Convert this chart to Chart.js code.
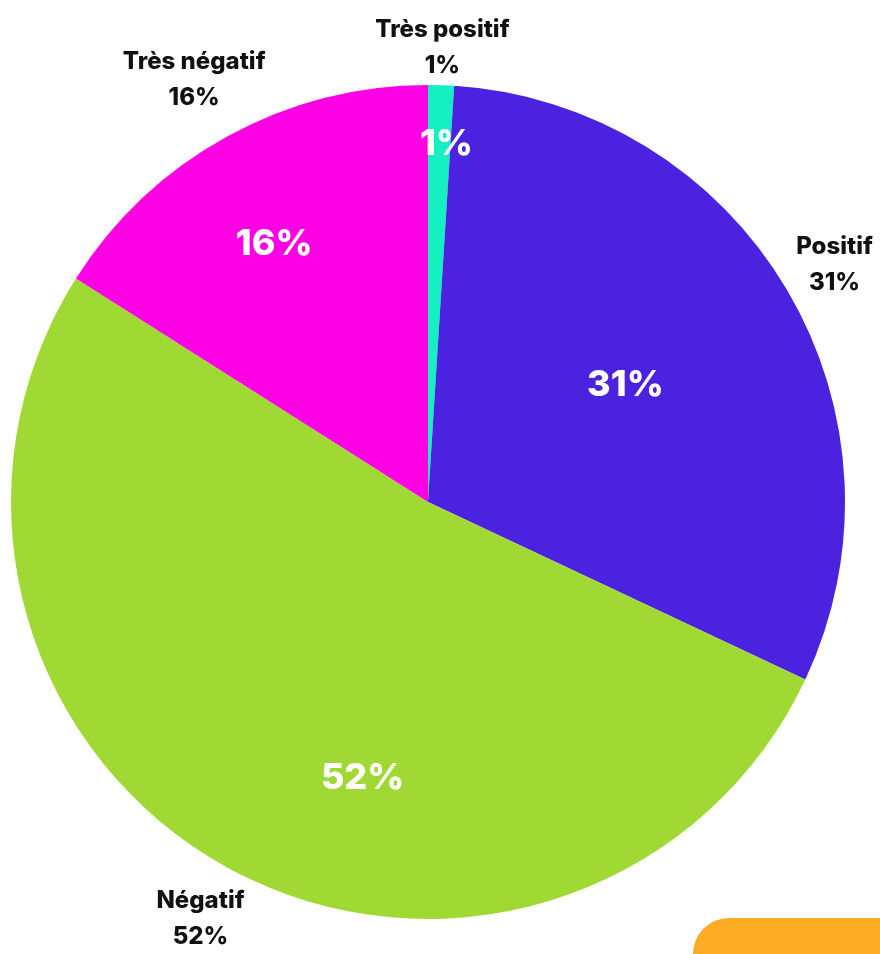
<!DOCTYPE html>
<html>
<head>
<meta charset="utf-8">
<title>Répartition des avis</title>
<style>
  body {
    margin: 0;
    background: #fff;
    overflow: hidden;
  }
  .wrap {
    position: relative;
    width: 880px;
    height: 954px;
  }
  /* bouton orange coupé en bas à droite */
  .badge {
    position: absolute;
    left: 693px;
    top: 918px;
    width: 260px;
    height: 120px;
    background: #fdab22;
    border-radius: 36px;
  }
</style>
</head>
<body>
<div class="wrap">
  <canvas id="avisChart" width="880" height="954"></canvas>
  <div class="badge"></div>
</div>

<script src="https://cdn.jsdelivr.net/npm/chart.js"></script>
<script>
  const categories = ['Très positif', 'Positif', 'Négatif', 'Très négatif'];
  const values = [1, 31, 52, 16];
  const colors = ['#14f0c2', '#4a22e0', '#a1d934', '#fd00e3'];

  const FONT = 'Inter, "Open Sans", sans-serif';

  // étiquettes : pourcentage dans la part, catégorie + pourcentage à l'extérieur
  const labelsPlugin = {
    id: 'pieLabels',
    afterDatasetsDraw(chart) {
      const ctx = chart.ctx;
      const meta = chart.getDatasetMeta(0);
      ctx.save();
      ctx.textAlign = 'center';
      ctx.textBaseline = 'middle';
      meta.data.forEach((arc, i) => {
        const { x, y, startAngle, endAngle, outerRadius } = arc.getProps(['x', 'y', 'startAngle', 'endAngle', 'outerRadius'], true);
        const mid = (startAngle + endAngle) / 2;
        const cos = Math.cos(mid), sin = Math.sin(mid);
        const txt = values[i] + '%';

        // intérieur
        const inner = [0.86, 0.55, 0.68, 0.72][i];
        const nudge = [0.02, 0, -0.27, -0.035][i];
        ctx.fillStyle = '#fff';
        ctx.font = '800 36px ' + FONT;
        ctx.fillText(txt, x + Math.cos(mid + nudge) * outerRadius * inner, y + Math.sin(mid + nudge) * outerRadius * inner);

        // extérieur : le bloc de texte est poussé hors du cercle
        ctx.font = '800 24px ' + FONT;
        const halfW = Math.max(ctx.measureText(categories[i]).width, ctx.measureText(txt).width) / 2;
        const halfH = 32;
        const dist = outerRadius + 6 + Math.abs(cos) * halfW + Math.abs(sin) * halfH;
        const ox = x + cos * dist;
        const oy = y + sin * dist + 3;
        const gap = 18;
        ctx.fillStyle = '#111';
        ctx.fillText(categories[i], ox, oy - gap);
        ctx.fillText(txt, ox, oy + gap);
      });
      ctx.restore();
    }
  };

  new Chart(document.getElementById('avisChart'), {
    type: 'pie',
    data: {
      labels: categories,
      datasets: [{
        data: values,
        backgroundColor: colors,
        borderWidth: 0
      }]
    },
    options: {
      responsive: false,
      animation: false,
      layout: {
        padding: { left: 11, right: 35, top: 85, bottom: 35 }
      },
      plugins: {
        legend: { display: false },
        tooltip: { enabled: false }
      }
    },
    plugins: [labelsPlugin]
  });
</script>
</body>
</html>
